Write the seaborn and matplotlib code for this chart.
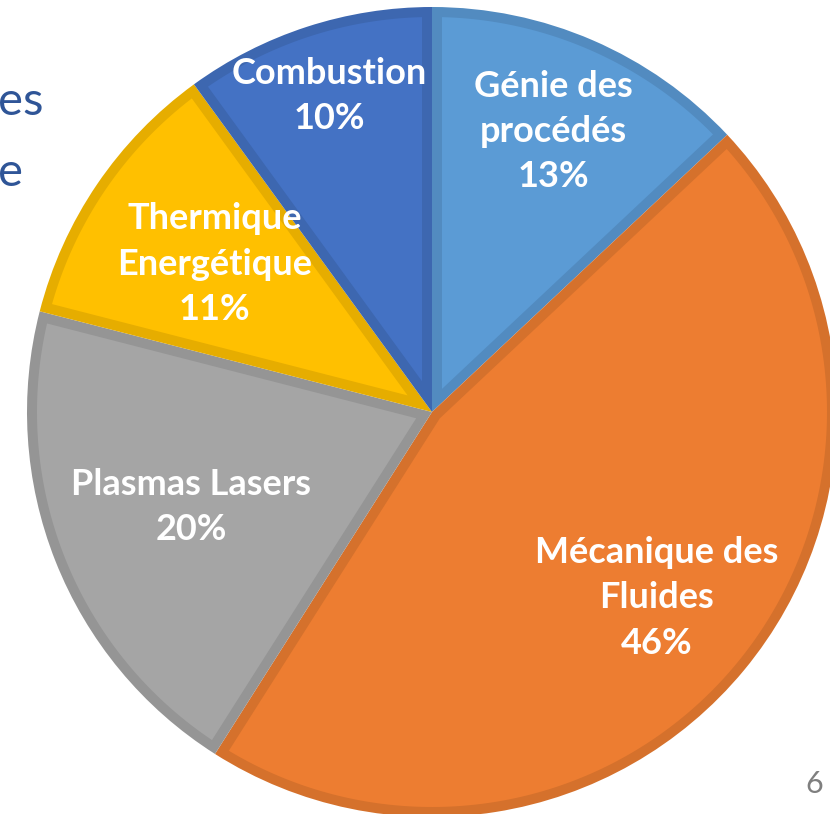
import numpy as np
import seaborn as sns
import matplotlib.pyplot as plt
from matplotlib.colors import to_rgb
from matplotlib.patches import Polygon

# data
categories = ["Génie des\nprocédés", "Mécanique des\nFluides", "Plasmas Lasers",
              "Thermique\nEnergétique", "Combustion"]
shares = [13, 46, 20, 11, 10]
colors = ["#5B9BD5", "#ED7D31", "#A5A5A5", "#FFC000", "#4472C4"]
label_radius = [0.755, 0.72, 0.64, 0.65, 0.82]

sns.set_theme(style="white")
plt.rcParams['font.family'] = ['Lato', 'DejaVu Sans']

W, H, DPI = 830, 814, 100
fig = plt.figure(figsize=(W / DPI, H / DPI), dpi=DPI)
ax = fig.add_axes([0, 0, 1, 1])

# pie centre and radius in pixels
cx, cy, rad = 432, 412, 405
d = 10 / rad  # border width in data units

# slices drawn in the darker border shade
dark = [tuple(v * 0.9 for v in to_rgb(c)) for c in colors]
wedges, _ = ax.pie(shares, colors=dark, startangle=90, counterclock=False,
                   radius=1.0, center=(0, 0),
                   wedgeprops=dict(linewidth=0))


def inner_slice(t1, t2):
    """Slice shrunk by the border width on every side."""
    a1, a2 = np.deg2rad(t1), np.deg2rad(t2)
    half = (a2 - a1) / 2
    mid = a1 + half
    apex = d / np.sin(half) * np.array([np.cos(mid), np.sin(mid)])
    delta = np.arcsin(d / (1 - d))
    arc = np.linspace(a1 + delta, a2 - delta, 200)
    pts = np.column_stack([(1 - d) * np.cos(arc), (1 - d) * np.sin(arc)])
    return np.vstack([apex, pts])


for w, c in zip(wedges, colors):
    ax.add_patch(Polygon(inner_slice(w.theta1, w.theta2), closed=True,
                         facecolor=c, edgecolor='none'))

# labels inside each slice
for w, lab, v, r in zip(wedges, categories, shares, label_radius):
    ang = np.deg2rad((w.theta1 + w.theta2) / 2)
    ax.text(r * np.cos(ang), r * np.sin(ang), f"{lab}\n{v}%",
            ha='center', va='center', color='white', fontsize=26,
            fontweight='bold', linespacing=1.45, zorder=5)

ax.set_xlim(-cx / rad, (W - cx) / rad)
ax.set_ylim(-(H - cy) / rad, cy / rad)
ax.set_aspect('equal')
ax.axis('off')

# slide fragments
fig.text(-0.002, 1 - 115 / H, "es", color="#2F5597", fontsize=34,
         ha='left', va='baseline')
fig.text(-0.002, 1 - 186 / H, "e", color="#2F5597", fontsize=34,
         ha='left', va='baseline')
fig.text(823 / W, 1 - 793 / H, "6", color="#7F7F7F", fontsize=22,
         ha='right', va='baseline')

fig.savefig("out.png", dpi=DPI)
